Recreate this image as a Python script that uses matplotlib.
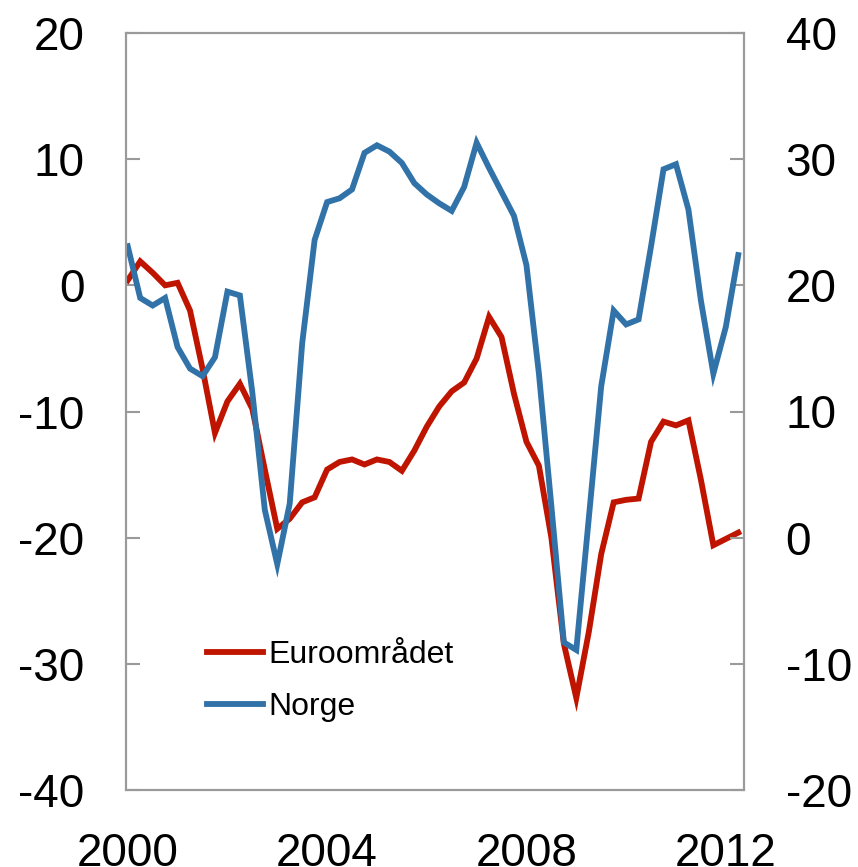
import matplotlib
matplotlib.use('Agg')
import matplotlib.pyplot as plt
import numpy as np

plt.rcParams['font.family'] = ['Liberation Sans', 'DejaVu Sans']
plt.rcParams['axes.unicode_minus'] = False

# Quarterly observations, 2000Q1 - 2012Q2
quarters = 2000 + np.arange(50) / 4

# Euroområdet (left axis)
euro = [0.4, 1.9, 1.0, 0.0, 0.2, -2.0, -6.6, -11.7, -9.2, -7.8,
        -9.8, -14.6, -19.3, -18.5, -17.2, -16.8, -14.6, -14.0, -13.8, -14.2,
        -13.8, -14.0, -14.7, -13.1, -11.2, -9.6, -8.4, -7.7, -5.8, -2.5,
        -4.1, -8.6, -12.4, -14.3, -20.0, -28.4, -32.7, -27.5, -21.3, -17.2,
        -17.0, -16.9, -12.4, -10.8, -11.1, -10.7, -15.4, -20.6, -20.1, -19.6]

# Norge (right axis)
norge = [23.1, 19.0, 18.4, 19.0, 15.1, 13.4, 12.8, 14.3, 19.5, 19.2,
         11.5, 2.2, -2.1, 2.7, 15.4, 23.6, 26.6, 26.9, 27.6, 30.5,
         31.1, 30.6, 29.7, 28.1, 27.2, 26.5, 25.9, 27.8, 31.3, 29.3,
         27.4, 25.5, 21.6, 13.0, 2.5, -8.3, -8.9, 1.5, 12.0, 18.0,
         16.9, 17.3, 23.1, 29.2, 29.6, 26.0, 18.8, 13.0, 16.7, 22.4]

left_ticks = [-40, -30, -20, -10, 0, 10, 20]
right_ticks = [-20, -10, 0, 10, 20, 30, 40]
year_ticks = [2000, 2004, 2008, 2012]

RED = '#BE1400'
BLUE = '#3173A8'
GRAY = '#9A9A9A'
FS = 33

fig = plt.figure(figsize=(8.58, 8.67), dpi=100)
ax = fig.add_axes([126 / 858, 1 - 790 / 867, 618 / 858, 757 / 867])
ax2 = ax.twinx()

l1, = ax.plot(quarters, euro, color=RED, lw=4.2, solid_joinstyle='miter', label='Euroområdet')
l2, = ax2.plot(quarters, norge, color=BLUE, lw=4.2, solid_joinstyle='miter', label='Norge')

ax.set_xlim(2000 - 0.035, 2012.25 + 0.115)
ax.set_ylim(-40, 20)
ax2.set_ylim(-20, 40)
ax.set_yticks(left_ticks)
ax2.set_yticks(right_ticks)
ax.set_xticks(year_ticks)
ax.set_xticklabels([str(y) for y in year_ticks])

for a in (ax, ax2):
    for sp in a.spines.values():
        sp.set_color(GRAY)
        sp.set_linewidth(1.5)

ax.tick_params(axis='y', direction='in', length=10, width=1.5, color=GRAY,
               labelsize=FS, pad=30)
ax2.tick_params(axis='y', direction='in', length=10, width=1.5, color=GRAY,
                labelsize=FS, pad=30)
ax.tick_params(axis='x', length=0, labelsize=FS, pad=30)

ax2.legend(handles=[l1, l2], loc='upper left', bbox_to_anchor=(207 / 858, 1 - 640 / 867),
           bbox_transform=fig.transFigure, frameon=False, fontsize=23,
           handlelength=1.75, handletextpad=0.17, labelspacing=0.7,
           borderpad=0, borderaxespad=0)

fig.savefig('out.png', dpi=100)
